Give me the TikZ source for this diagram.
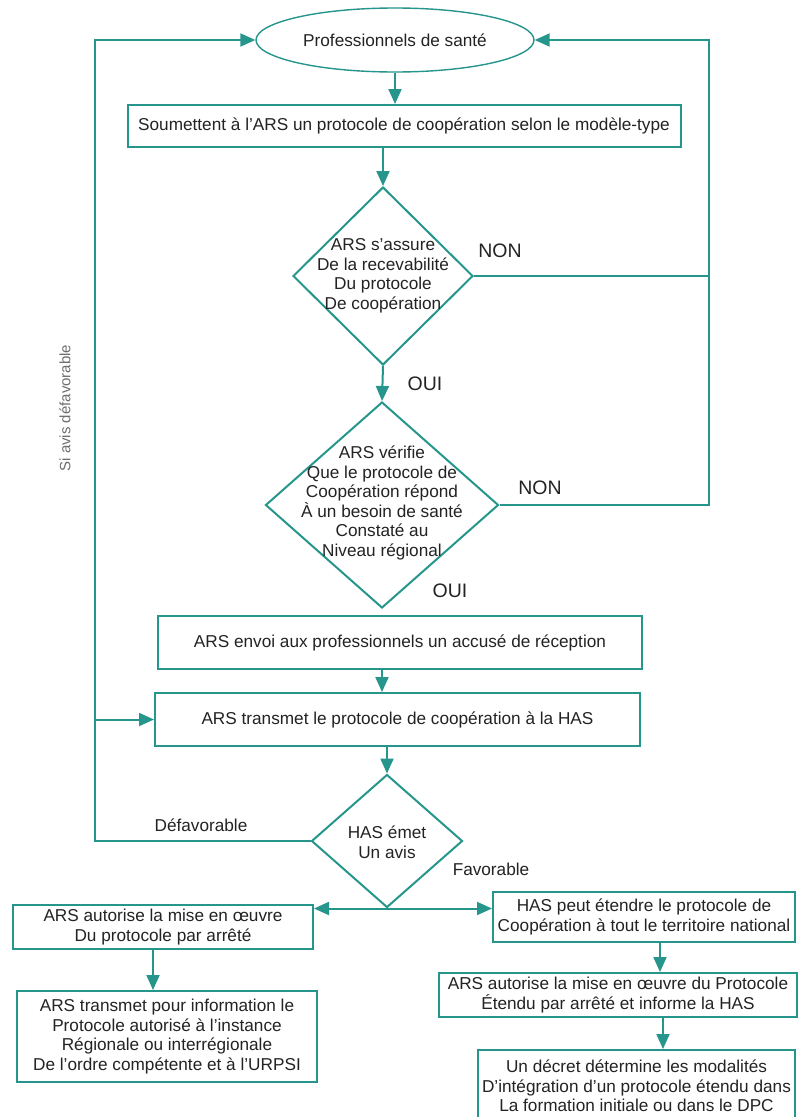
\documentclass[tikz,border=0pt]{standalone}
\usepackage{fontspec}
\setmainfont{Liberation Sans}
\usetikzlibrary{shapes.geometric,arrows.meta,calc}
\definecolor{tl}{RGB}{38,150,140}
\definecolor{tx}{RGB}{35,35,35}
\definecolor{gr}{RGB}{110,110,110}
\begin{document}
\begin{tikzpicture}[x=1pt,y=-1pt,
  every node/.style={text=tx, font=\fontsize{17.2}{19.5}\selectfont},
  bx/.style={draw=tl, line width=2pt, rectangle, inner sep=0pt, align=center},
  dia/.style={draw=tl, line width=2pt, diamond, inner sep=0pt},
  ell/.style={draw=tl, line width=1.4pt, ellipse, inner sep=0pt},
  txt/.style={align=center, inner sep=0pt},
  ln/.style={draw=tl, line width=2pt},
  ar/.style={ln, -{Triangle[length=15pt,width=13pt]}},
  big/.style={font=\fontsize{19.5}{22}\selectfont},
  side/.style={text=gr, font=\fontsize{15}{18}\selectfont}
]
\useasboundingbox (0,0) rectangle (798,1117);
\clip (0,0) rectangle (798,1117);
\fill[white] (0,0) rectangle (798,1117);

% nodes
\node[ell, minimum width=278, minimum height=64] (ps) at (395,40) {Professionnels de santé};
\node[bx, minimum width=553, minimum height=42] (b1) at (404,126) {Soumettent à l'ARS un protocole de coopération selon le modèle-type};
\node[dia, minimum width=180, minimum height=178] (d1) at (383,276) {};
\node[txt] (t1) at (d1) {ARS s'assure\\De la recevabilité\\Du protocole\\De coopération};
\node[dia, minimum width=233, minimum height=206] (d2) at (382,505) {};
\node[txt] (t2) at (382,503) {ARS vérifie\\Que le protocole de\\Coopération répond\\À un besoin de santé\\Constaté au\\Niveau régional};
\node[bx, minimum width=484, minimum height=53] (b3) at (400,642.5) {ARS envoi aux professionnels un accusé de réception};
\node[bx, minimum width=485, minimum height=53] (b4) at (397.5,719.5) {ARS transmet le protocole de coopération à la HAS};
\node[dia, minimum width=151, minimum height=133] (d3) at (387,841) {};
\node[txt] (t3) at (387,842) {HAS émet\\Un avis};
\node[bx, minimum width=300, minimum height=44] (bl1) at (163,927) {ARS autorise la mise en œuvre\\Du protocole par arrêté};
\node[bx, minimum width=300, minimum height=91] (bl2) at (167,1036.5) {ARS transmet pour information le\\Protocole autorisé à l'instance\\Régionale ou interrégionale\\De l'ordre compétente et à l'URPSI};
\node[bx, minimum width=302, minimum height=50] (br1) at (644,917) {HAS peut étendre le protocole de\\Coopération à tout le territoire national};
\node[bx, minimum width=358, minimum height=44] (br2) at (618,995) {ARS autorise la mise en œuvre du Protocole\\Étendu par arrêté et informe la HAS};
\node[bx, minimum width=317, minimum height=72] (br3) at (636.5,1086) {Un décret détermine les modalités\\D'intégration d'un protocole étendu dans\\La formation initiale ou dans le DPC};

% labels
\node[big] (non1) at (500,251) {NON};
\node[big] (oui1) at (425,384) {OUI};
\node[big] (non2) at (540,488) {NON};
\node[big] (oui2) at (450,591) {OUI};
\node (def) at (201,825) {Défavorable};
\node (fav) at (491,869) {Favorable};
\node[side, rotate=90] (si) at (65,408) {Si avis défavorable};

% helper coordinates
\coordinate (rt) at (709,40);
\coordinate (lt) at (95,40);

% connectors
\draw[ar] (ps.south) -- (ps.south |- b1.north);
\draw[ar] (d1.north |- b1.south) -- (d1.north);
\draw[ln] (d1.east) -- (d1.east -| rt);
\draw[ar] (d2.east) -- (d2.east -| rt) -- (rt) -- (ps.east);
\draw[ar] (d1.south) -- (d2.north);
\draw[ar] (d2.south |- b3.south) -- (d2.south |- b4.north);
\draw[ar] (d3.north |- b4.south) -- (d3.north);
\draw[ar] (d3.west) -- (d3.west -| lt) -- (lt) -- (ps.west);
\draw[ar] (lt |- b4.west) -- (b4.west);
\draw[ar] (d3.south) -- (d3.south -| bl1.east);
\draw[ar] (d3.south) -- (d3.south -| br1.west);
\draw[ar] ([xshift=-10pt]bl1.south) -- ([xshift=-10pt]bl1.south |- bl2.north);
\draw[ar] ([xshift=16pt]br1.south) -- ([xshift=16pt]br1.south |- br2.north);
\draw[ar] ([xshift=45pt]br2.south) -- ([xshift=45pt]br2.south |- br3.north);
\end{tikzpicture}
\end{document}
